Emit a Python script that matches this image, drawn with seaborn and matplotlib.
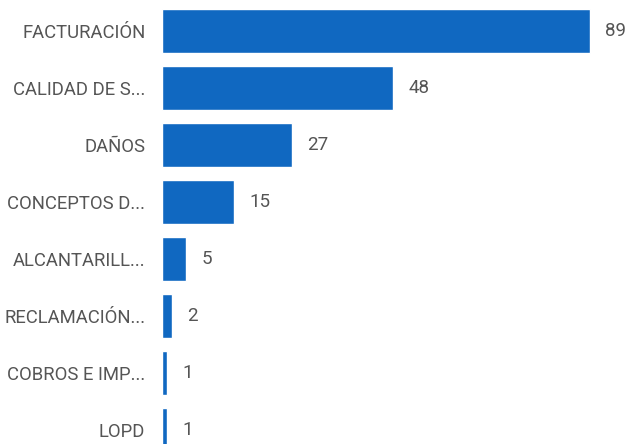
import numpy as np
import pandas as pd
from matplotlib import pyplot as plt
import seaborn as sns

categorias = ["FACTURACIÓN", "CALIDAD DE S...", "DAÑOS", "CONCEPTOS D...",
              "ALCANTARILL...", "RECLAMACIÓN...", "COBROS E IMP...", "LOPD"]
valores = [89, 48, 27, 15, 5, 2, 1, 1]

df = pd.DataFrame({"categoria": categorias, "valor": valores})

sns.set_style("white")
plt.rcParams["font.family"] = ["Roboto", "DejaVu Sans"]

fig = plt.figure(figsize=(6.3, 4.44), dpi=100)
ax = fig.add_axes([162 / 630, 0, 468 / 630, 1])

sns.barplot(data=df, x="valor", y="categoria", color="#1068C1", saturation=1,
            width=0.77, orient="h", ax=ax)

ax.set_xlim(0, 97.3)
ax.set_ylim(7.246, -0.544)
ax.bar_label(ax.containers[0], padding=11, fontsize=13.5, color="#555555")

ax.set_xlabel("")
ax.set_ylabel("")
ax.set_xticks([])
ax.tick_params(axis="y", length=0, pad=12, labelsize=13.3, labelcolor="#555555")
sns.despine(ax=ax, left=True, bottom=True)

plt.savefig("out.png", dpi=100)
